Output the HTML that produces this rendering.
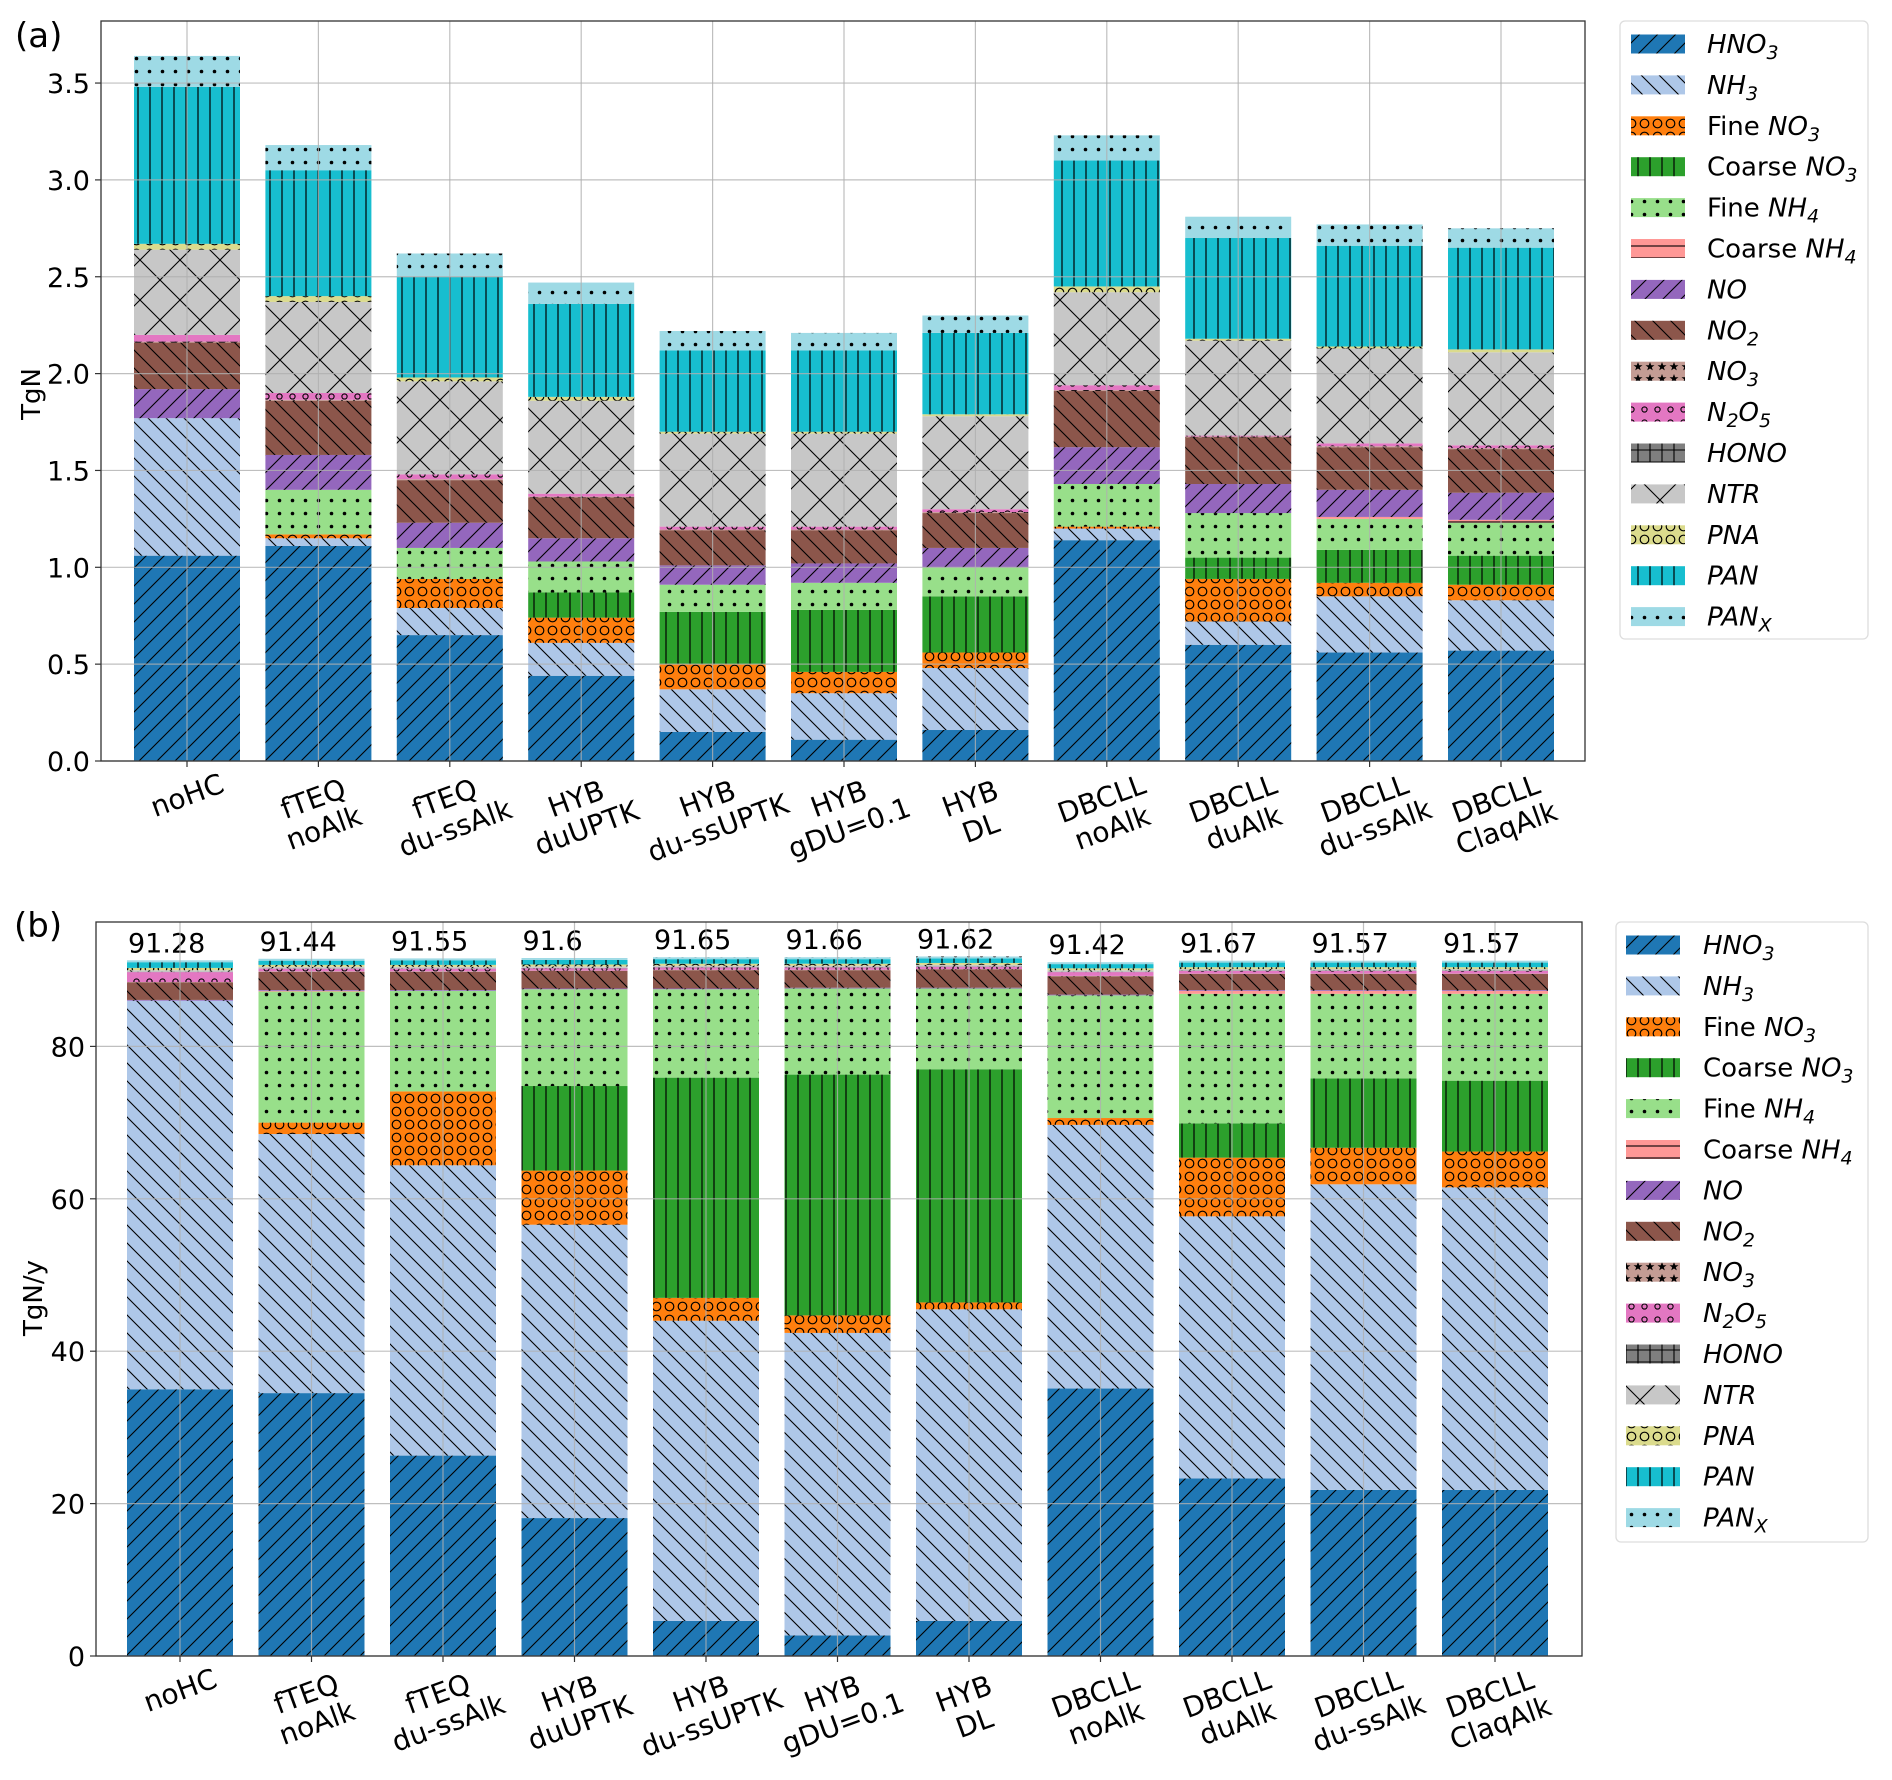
<!DOCTYPE html>
<html><head><meta charset="utf-8"><style>
html,body{margin:0;padding:0;background:#fff;}
svg{display:block;font-family:"DejaVu Sans","Liberation Sans",sans-serif;}
</style></head><body>
<svg id="chart" width="1892" height="1780" viewBox="0 0 1892 1780" xmlns="http://www.w3.org/2000/svg">
<defs>
<pattern id="p-fwd" patternUnits="userSpaceOnUse" width="18" height="18"><path d="M-4.5,4.5L4.5,-4.5M0,18L18,0M13.5,22.5L22.5,13.5" stroke="#000" stroke-width="1.1"/></pattern>
<pattern id="p-back" patternUnits="userSpaceOnUse" width="18" height="18"><path d="M-4.5,13.5L4.5,22.5M0,0L18,18M13.5,-4.5L22.5,4.5" stroke="#000" stroke-width="1.1"/></pattern>
<pattern id="p-vert" patternUnits="userSpaceOnUse" width="12" height="12"><path d="M6,0V12" stroke="#000" stroke-width="1.2"/></pattern>
<pattern id="p-horiz" patternUnits="userSpaceOnUse" width="12" height="12"><path d="M0,6H12" stroke="#000" stroke-width="1.1"/></pattern>
<pattern id="p-dots" patternUnits="userSpaceOnUse" width="13" height="13"><circle cx="6.5" cy="6.5" r="1.8" fill="#000"/></pattern>
<pattern id="p-circ" patternUnits="userSpaceOnUse" width="13" height="13"><circle cx="6.5" cy="6.5" r="4.3" fill="none" stroke="#000" stroke-width="1.2"/></pattern>
<pattern id="p-smallcirc" patternUnits="userSpaceOnUse" width="13" height="13"><circle cx="6.5" cy="6.5" r="2.6" fill="none" stroke="#000" stroke-width="1.1"/></pattern>
<pattern id="p-x" patternUnits="userSpaceOnUse" width="40" height="40"><path d="M0,0L40,40M40,0L0,40" stroke="#000" stroke-width="1.1"/></pattern>
<pattern id="p-plus" patternUnits="userSpaceOnUse" width="12" height="12"><path d="M6,0V12M0,6H12" stroke="#000" stroke-width="1.1"/></pattern>
<pattern id="p-star" patternUnits="userSpaceOnUse" width="12" height="12"><path d="M6,2L7.2,5.2L10.5,5.2L7.8,7.2L8.8,10.4L6,8.5L3.2,10.4L4.2,7.2L1.5,5.2L4.8,5.2Z" fill="#000"/></pattern>
</defs>
</svg>
<script>
// ---------- data ----------
const categories = [["noHC"],["fTEQ","noAlk"],["fTEQ","du-ssAlk"],["HYB","duUPTK"],["HYB","du-ssUPTK"],["HYB","gDU=0.1"],["HYB","DL"],["DBCLL","noAlk"],["DBCLL","duAlk"],["DBCLL","du-ssAlk"],["DBCLL","ClaqAlk"]];
const speciesNames = ["HNO3","NH3","Fine NO3","Coarse NO3","Fine NH4","Coarse NH4","NO","NO2","NO3","N2O5","HONO","NTR","PNA","PAN","PANX"];
const speciesColors = ["#1f77b4","#aec7e8","#ff7f0e","#2ca02c","#98df8a","#ff9896","#9467bd","#8c564b","#c49c94","#e377c2","#7f7f7f","#c7c7c7","#dbdb8d","#17becf","#9edae5"];
const speciesHatch = ["p-fwd","p-back","p-circ","p-vert","p-dots","p-horiz","p-fwd","p-back","p-star","p-smallcirc","p-plus","p-x","p-circ","p-vert","p-dots"];

// panel (a) burdens, TgN
const aHNO3  = [1.06,1.11,0.65,0.44,0.15,0.11,0.16,1.14,0.60,0.56,0.57];
const aNH3   = [0.71,0.04,0.14,0.17,0.22,0.24,0.32,0.06,0.12,0.29,0.26];
const aFNO3  = [0,0.02,0.15,0.13,0.13,0.11,0.08,0.01,0.22,0.07,0.08];
const aCNO3  = [0,0,0,0.13,0.27,0.32,0.29,0,0.11,0.17,0.15];
const aFNH4  = [0,0.23,0.16,0.16,0.14,0.14,0.15,0.22,0.23,0.16,0.17];
const aCNH4  = [0,0,0,0,0,0,0,0,0,0.01,0.015];
const aNO    = [0.15,0.18,0.13,0.12,0.10,0.10,0.10,0.19,0.15,0.14,0.14];
const aNO2   = [0.24,0.28,0.22,0.21,0.18,0.17,0.18,0.29,0.24,0.22,0.225];
const aNO3r  = [0.005,0.005,0.005,0.005,0.005,0.005,0.005,0.005,0.005,0.005,0.005];
const aN2O5  = [0.035,0.035,0.025,0.015,0.015,0.015,0.015,0.025,0.005,0.015,0.015];
const aHONO  = [0,0,0,0,0,0,0,0,0,0,0];
const aNTR   = [0.44,0.47,0.48,0.48,0.48,0.48,0.48,0.48,0.49,0.49,0.48];
const aPNA   = [0.03,0.03,0.02,0.02,0.01,0.01,0.01,0.03,0.01,0.01,0.015];
const aPAN   = [0.81,0.65,0.52,0.48,0.42,0.42,0.42,0.65,0.52,0.52,0.525];
const aPANX  = [0.16,0.13,0.12,0.11,0.10,0.09,0.09,0.13,0.11,0.11,0.10];
const aTicks = [0,0.5,1.0,1.5,2.0,2.5,3.0,3.5];
const aTickLabels = ["0.0","0.5","1.0","1.5","2.0","2.5","3.0","3.5"];

// panel (b) deposition, TgN/y
const bHNO3  = [35.0,34.5,26.3,18.1,4.6,2.7,4.6,35.1,23.3,21.8,21.8];
const bNH3   = [51.0,34.0,38.1,38.5,39.4,39.7,40.9,34.6,34.4,40.1,39.7];
const bFNO3  = [0,1.5,9.7,7.1,3.0,2.3,0.9,0.9,7.7,4.8,4.7];
const bCNO3  = [0,0,0,11.1,28.9,31.6,30.6,0,4.5,9.1,9.3];
const bFNH4  = [0,17.2,13.2,12.7,11.6,11.3,10.6,16.1,17.0,11.1,11.4];
const bCNH4  = [0,0.1,0,0,0,0,0,0,0.4,0.4,0.4];
const bNO    = [0.1,0.1,0.1,0.1,0.1,0.1,0.1,0.1,0.1,0.1,0.1];
const bNO2   = [2.3,2.4,2.4,2.3,2.4,2.3,2.4,2.4,2.1,2.1,2.1];
const bNO3r  = [0.05,0.05,0.05,0.05,0.05,0.05,0.05,0.05,0.05,0.05,0.05];
const bN2O5  = [1.3,0.35,0.35,0.3,0.3,0.3,0.3,0.5,0.35,0.35,0.35];
const bHONO  = [0.05,0.05,0.05,0.05,0.05,0.05,0.05,0.05,0.05,0.05,0.05];
const bNTR   = [0.2,0.2,0.2,0.2,0.2,0.2,0.2,0.2,0.2,0.2,0.2];
const bPNA   = [0.3,0.25,0.25,0.25,0.25,0.25,0.25,0.25,0.25,0.25,0.25];
const bPAN   = [0.75,0.55,0.6,0.6,0.6,0.6,0.6,0.55,0.6,0.6,0.6];
const bPANX  = [0.25,0.25,0.25,0.25,0.25,0.25,0.25,0.25,0.25,0.25,0.25];
const bTotals = ["91.28","91.44","91.55","91.6","91.65","91.66","91.62","91.42","91.67","91.57","91.57"];
const bTicks = [0,20,40,60,80];
const bTickLabels = ["0","20","40","60","80"];

const aSeries = [aHNO3,aNH3,aFNO3,aCNO3,aFNH4,aCNH4,aNO,aNO2,aNO3r,aN2O5,aHONO,aNTR,aPNA,aPAN,aPANX];
const bSeries = [bHNO3,bNH3,bFNO3,bCNO3,bFNH4,bCNH4,bNO,bNO2,bNO3r,bN2O5,bHONO,bNTR,bPNA,bPAN,bPANX];

// ---------- drawing ----------
const NS = "http://www.w3.org/2000/svg";
const svg = document.getElementById("chart");
function mk(tag, attrs, parent) {
  const e = document.createElementNS(NS, tag);
  for (const k in attrs) e.setAttribute(k, attrs[k]);
  (parent || svg).appendChild(e);
  return e;
}

function legendLabel(t) {
  const map = {
    "HNO3":["","HNO","3"],"NH3":["","NH","3"],"Fine NO3":["Fine ","NO","3"],"Coarse NO3":["Coarse ","NO","3"],
    "Fine NH4":["Fine ","NH","4"],"Coarse NH4":["Coarse ","NH","4"],"NO":["","NO",""],"NO2":["","NO","2"],
    "NO3":["","NO","3"],"N2O5":["","N","2","O","5"],"HONO":["","HONO",""],"NTR":["","NTR",""],"PNA":["","PNA",""],
    "PAN":["","PAN",""],"PANX":["","PAN","X"]
  };
  return map[t];
}

function drawPanel(cfg) {
  const g = mk("g", {});
  
  
  const y = v => cfg.y0 - v * cfg.scale;
  const x = i => cfg.x0 + i * cfg.step;
  const bw = cfg.barW;
  for (let i = 0; i < categories.length; i++) {
    let base = 0;
    const bg = mk("g", {}, g);
    
    
    for (let s = 0; s < cfg.series.length; s++) {
      const v = cfg.series[s][i];
      if (v <= 0) continue;
      const top = base + v;
      const yt = y(top), h = y(base) - y(top);
      const r = mk("rect", {x: x(i) - bw/2, y: yt, width: bw, height: h, fill: speciesColors[s]}, bg);
      
      
      mk("rect", {x: x(i) - bw/2, y: yt, width: bw, height: h, fill: "url(#" + speciesHatch[s] + ")"}, bg);
      base = top;
    }
    if (cfg.totals) {
      const t = mk("text", {x: x(i) - bw/2 + 1, y: y(base) - 8, "font-size": 27, fill: "#000"}, g);
      t.textContent = cfg.totals[i];
      
      
    }
  }
  for (let k = 0; k < cfg.ticks.length; k++) {
    const gl = mk("line", {x1: cfg.left, x2: cfg.right, y1: y(cfg.ticks[k]), y2: y(cfg.ticks[k]), stroke: "#b0b0b0", "stroke-width": 1.2, opacity: 0.8}, g);
    
    
  }
  for (let i = 0; i < categories.length; i++) {
    const gl = mk("line", {x1: x(i), x2: x(i), y1: cfg.top, y2: cfg.y0, stroke: "#b0b0b0", "stroke-width": 1.2, opacity: 0.8}, g);
    
    
  }
  const fr = mk("rect", {x: cfg.left, y: cfg.top, width: cfg.right - cfg.left, height: cfg.y0 - cfg.top, fill: "none", stroke: "#333", "stroke-width": 1.3}, g);
  
  
  for (let k = 0; k < cfg.ticks.length; k++) {
    mk("line", {x1: cfg.left - 6, x2: cfg.left, y1: y(cfg.ticks[k]), y2: y(cfg.ticks[k]), stroke: "#333", "stroke-width": 1.2}, g);
    const t = mk("text", {x: cfg.left - 11, y: y(cfg.ticks[k]) + 10, "font-size": 27, "text-anchor": "end", fill: "#000"}, g);
    t.textContent = cfg.tickLabels[k];
    
    
  }
  for (let i = 0; i < categories.length; i++) {
    mk("line", {x1: x(i), x2: x(i), y1: cfg.y0, y2: cfg.y0 + 6, stroke: "#333", "stroke-width": 1.2}, g);
    const lines = categories[i];
    const cy = cfg.y0 + (lines.length === 1 ? 34 : 52);
    const t = mk("text", {transform: "translate(" + x(i) + "," + cy + ") rotate(-20)", "font-size": 28, "text-anchor": "middle", fill: "#000"}, g);
    
    
    lines.forEach((ln, j) => {
      const ts = mk("tspan", {x: 0, y: (j - (lines.length - 1) / 2) * 31 + 10}, t);
      ts.textContent = ln;
    });
  }
  const yl = mk("text", {transform: "translate(" + cfg.ylabX + "," + cfg.ylabY + ") rotate(-90)", "font-size": 26, "text-anchor": "middle", fill: "#000"}, g);
  yl.textContent = cfg.ylabel;
  
  
  const pl = mk("text", {x: cfg.tagX, y: cfg.tagY, "font-size": 34, fill: "#000"}, g);
  pl.textContent = cfg.tag;
  
  
  const L = cfg.legend;
  const lg = mk("g", {}, g);
  
  
  mk("rect", {x: L.x, y: L.y, width: L.w, height: L.h, rx: 5, fill: "#fff", stroke: "#ddd", "stroke-width": 1.3}, lg);
  for (let s = 0; s < speciesNames.length; s++) {
    const cy = L.firstY + s * L.gap;
    const eg = mk("g", {}, lg);
    
    
    mk("rect", {x: L.px, y: cy - 9.5, width: 54, height: 19, fill: speciesColors[s]}, eg);
    mk("rect", {x: L.px, y: cy - 9.5, width: 54, height: 19, fill: "url(#" + speciesHatch[s] + ")"}, eg);
    const parts = legendLabel(speciesNames[s]);
    const t = mk("text", {x: L.tx, y: cy + 9, "font-size": 26, fill: "#000"}, eg);
    if (parts[0]) { const a = mk("tspan", {}, t); a.textContent = parts[0]; }
    const b = mk("tspan", {"font-style": "italic"}, t); b.textContent = parts[1];
    if (parts[2]) { const c = mk("tspan", {"font-style": "italic", "font-size": 19, dy: 6}, t); c.textContent = parts[2]; }
    if (parts[3]) { const d = mk("tspan", {"font-style": "italic", dy: -6}, t); d.textContent = parts[3];
                    const e = mk("tspan", {"font-style": "italic", "font-size": 19, dy: 6}, t); e.textContent = parts[4]; }
  }
}

drawPanel({name: "panel-a-burden", series: aSeries, ticks: aTicks, tickLabels: aTickLabels,
  left: 101, right: 1585, top: 21, y0: 761, scale: 193.7, x0: 187, step: 131.4, barW: 106,
  ylabel: "TgN", ylabX: 40, ylabY: 394, tag: "(a)", tagX: 15, tagY: 47,
  legend: {x: 1620, y: 21, w: 248, h: 618, firstY: 44, gap: 40.9, px: 1631, tx: 1707}});
drawPanel({name: "panel-b-deposition", series: bSeries, ticks: bTicks, tickLabels: bTickLabels, totals: bTotals,
  left: 96, right: 1582, top: 922, y0: 1656, scale: 7.62, x0: 180, step: 131.5, barW: 106,
  ylabel: "TgN/y", ylabX: 42, ylabY: 1298, tag: "(b)", tagX: 14, tagY: 937,
  legend: {x: 1616, y: 922, w: 252, h: 620, firstY: 945, gap: 40.9, px: 1626, tx: 1703}});
</script>
</body></html>
